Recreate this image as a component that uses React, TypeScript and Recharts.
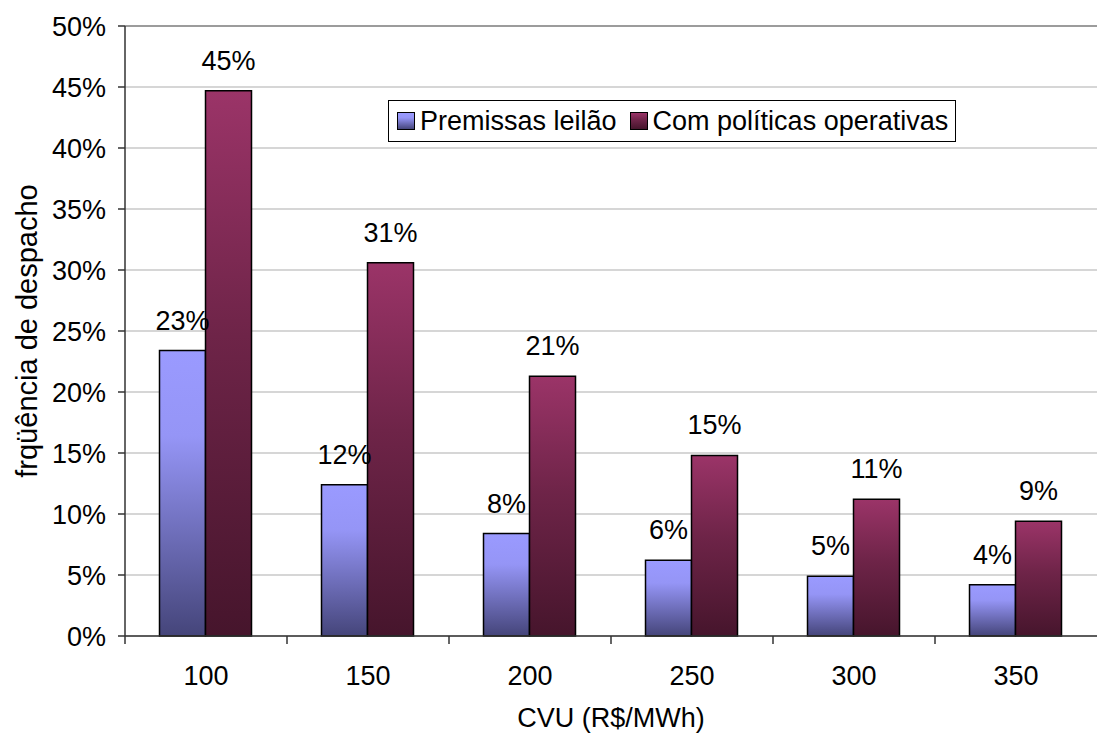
import React from 'react';
import { BarChart, Bar, XAxis, YAxis, CartesianGrid, Legend, LabelList, Label, ReferenceLine } from 'recharts';

const categories = ['100', '150', '200', '250', '300', '350'];
const premissasLeilao = [0.234, 0.124, 0.084, 0.062, 0.049, 0.042];
const comPoliticas = [0.447, 0.306, 0.213, 0.148, 0.112, 0.094];
const yTicks = [0, 0.05, 0.1, 0.15, 0.2, 0.25, 0.3, 0.35, 0.4, 0.45, 0.5];
const seriesNames = ['Premissas leilão', 'Com políticas operativas'];

const data = categories.map((c, i) => ({
  cvu: c,
  premissas: premissasLeilao[i],
  politicas: comPoliticas[i],
}));

const FONT = '"Liberation Sans", Arial, Helvetica, sans-serif';
const FS = 27;
const AXIS = '#333333';
const BLUE_STOPS: [string, string][] = [['0%', '#9a9aff'], ['30%', '#9595f6'], ['100%', '#45457a']];
const RED_STOPS: [string, string][] = [['0%', '#9b3468'], ['45%', '#6e2448'], ['100%', '#46152c']];

const pct = (v: number) => `${Math.round(v * 100)}%`;
const cssGrad = (stops: [string, string][]) =>
  `linear-gradient(to bottom, ${stops.map(([o, c]) => `${c} ${o}`).join(', ')})`;

const TICK_SIZE = 8;

const XTick = (props: any) => {
  const { x, y, payload } = props;
  const off = payload && payload.offset ? payload.offset : 0;
  return (
    <g>
      <line x1={x - off} x2={x - off} y1={y - TICK_SIZE} y2={y} stroke={AXIS} strokeWidth={1.5} />
      <text x={x} y={y} dy={41} textAnchor="middle" fontSize={FS} fontFamily={FONT} fill="#000">
        {payload.value}
      </text>
    </g>
  );
};

const YLabel = (props: any) => {
  const vb = props.viewBox || { x: 0, y: 26, width: 125, height: 610 };
  const cx = vb.x + 27;
  const cy = vb.y + vb.height / 2;
  return (
    <text
      x={cx}
      y={cy}
      transform={`rotate(-90, ${cx}, ${cy})`}
      textAnchor="middle"
      dominantBaseline="central"
      fontSize={29}
      fontFamily={FONT}
      fill="#000"
    >
      frqüência de despacho
    </text>
  );
};

const LegendContent = () => {
  const grads = [BLUE_STOPS, RED_STOPS];
  return (
    <div
      style={{
        display: 'flex',
        alignItems: 'center',
        border: '1px solid #000',
        background: '#fff',
        padding: '0 7px 0 8px',
        height: 42,
        fontFamily: FONT,
        fontSize: FS,
        color: '#000',
        whiteSpace: 'nowrap',
        boxSizing: 'border-box',
      }}
    >
      {seriesNames.map((n, i) => (
        <div key={n} style={{ display: 'flex', alignItems: 'center', marginRight: i === 0 ? 13 : 0 }}>
          <span
            style={{
              display: 'inline-block',
              width: 18,
              height: 18,
              border: '1px solid #000',
              boxSizing: 'border-box',
              background: cssGrad(grads[i]),
              marginRight: 5,
            }}
          />
          <span>{n}</span>
        </div>
      ))}
    </div>
  );
};

export default function App() {
  return (
    <div style={{ position: 'absolute', left: 0, top: 0, width: 1099, height: 737, background: '#fff' }}>
      <BarChart
        width={1099}
        height={737}
        data={data}
        margin={{ top: 26, right: 2, bottom: 0, left: 0 }}
        barCategoryGap="21.3%"
        barGap={0}
      >
        <defs>
          <linearGradient id="gradBlue" x1="0" y1="0" x2="0" y2="1">
            {BLUE_STOPS.map(([o, c]) => (
              <stop key={o} offset={o} stopColor={c} />
            ))}
          </linearGradient>
          <linearGradient id="gradRed" x1="0" y1="0" x2="0" y2="1">
            {RED_STOPS.map(([o, c]) => (
              <stop key={o} offset={o} stopColor={c} />
            ))}
          </linearGradient>
        </defs>
        <CartesianGrid vertical={false} stroke="#c8c8c8" strokeWidth={1.5} />
        <ReferenceLine y={0.5} stroke="#888888" strokeWidth={1.5} />
        <XAxis
          dataKey="cvu"
          height={101}
          stroke={AXIS}
          strokeWidth={1.5}
          tickLine={false}
          tickSize={TICK_SIZE}
          tickMargin={0}
          tick={<XTick />}
          interval={0}
        >
          <Label
            value="CVU (R$/MWh)"
            position="insideBottom"
            offset={10}
            style={{ fontSize: FS, fontFamily: FONT, fill: '#000' }}
          />
        </XAxis>
        <YAxis
          width={125}
          domain={[0, 0.5]}
          ticks={yTicks}
          interval={0}
          tickFormatter={pct}
          stroke={AXIS}
          strokeWidth={1.5}
          tickSize={7}
          tickMargin={12}
          tick={{ fontSize: FS, fontFamily: FONT, fill: '#000' }}
        >
          <Label content={<YLabel />} />
        </YAxis>
        <Legend
          layout="horizontal"
          verticalAlign="middle"
          align="center"
          wrapperStyle={{ left: 388, top: 100, width: 'auto', height: 'auto' }}
          content={<LegendContent />}
        />
        <Bar dataKey="premissas" name={seriesNames[0]} fill="url(#gradBlue)" stroke="#000" strokeWidth={1.5} isAnimationActive={false}>
          <LabelList dataKey="premissas" position="top" offset={21} formatter={(v: any) => pct(Number(v))} style={{ fontSize: FS, fontFamily: FONT, fill: '#000' }} />
        </Bar>
        <Bar dataKey="politicas" name={seriesNames[1]} fill="url(#gradRed)" stroke="#000" strokeWidth={1.5} isAnimationActive={false}>
          <LabelList dataKey="politicas" position="top" offset={21} formatter={(v: any) => pct(Number(v))} style={{ fontSize: FS, fontFamily: FONT, fill: '#000' }} />
        </Bar>
      </BarChart>
    </div>
  );
}
